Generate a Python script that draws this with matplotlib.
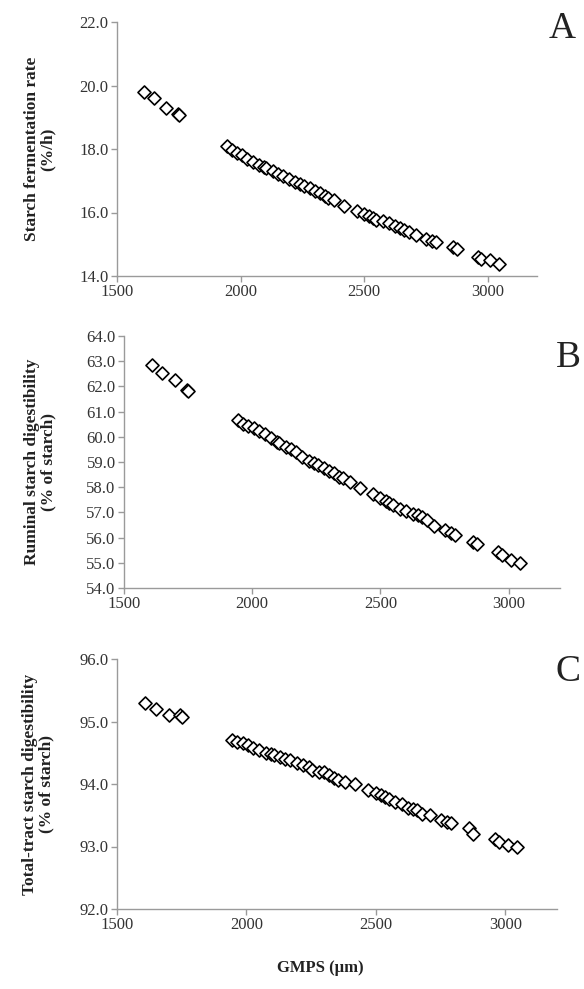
import matplotlib
matplotlib.use("Agg")
import matplotlib.pyplot as plt

plt.rcParams['font.family'] = ['Liberation Serif', 'DejaVu Serif']

# GMPS (um), shared by all three panels
gmps = [1610, 1650, 1700, 1745, 1750, 1945, 1965, 1985, 2005, 2025, 2050, 2075,
        2095, 2105, 2130, 2150, 2170, 2195, 2220, 2240, 2255, 2280, 2300, 2320,
        2340, 2355, 2380, 2420, 2470, 2500, 2520, 2535, 2550, 2575, 2600, 2625,
        2645, 2660, 2680, 2710, 2750, 2775, 2790, 2860, 2875, 2960, 2975, 3010, 3045]

# A: starch fermentation rate (%/h)
ferm_rate = [19.80, 19.60, 19.30, 19.10, 19.08, 18.10, 17.98, 17.88, 17.80, 17.70,
             17.60, 17.50, 17.42, 17.40, 17.30, 17.22, 17.15, 17.05, 16.96, 16.90,
             16.85, 16.76, 16.68, 16.62, 16.52, 16.46, 16.38, 16.20, 16.05, 15.95,
             15.88, 15.82, 15.77, 15.72, 15.66, 15.58, 15.50, 15.44, 15.38, 15.28,
             15.18, 15.10, 15.06, 14.90, 14.84, 14.60, 14.55, 14.50, 14.38]

# B: ruminal starch digestibility (% of starch)
rumen_dig = [62.85, 62.55, 62.25, 61.85, 61.80, 60.65, 60.52, 60.42, 60.35, 60.22,
             60.10, 59.95, 59.80, 59.75, 59.60, 59.50, 59.38, 59.20, 59.05, 58.95,
             58.88, 58.75, 58.65, 58.55, 58.42, 58.35, 58.22, 57.95, 57.72, 57.56,
             57.45, 57.38, 57.28, 57.15, 57.05, 56.95, 56.88, 56.80, 56.70, 56.48,
             56.32, 56.20, 56.12, 55.82, 55.76, 55.42, 55.30, 55.13, 55.00]

# C: total-tract starch digestibility (% of starch)
tt_dig = [95.30, 95.20, 95.10, 95.10, 95.08, 94.70, 94.68, 94.65, 94.62, 94.58,
          94.55, 94.50, 94.48, 94.47, 94.43, 94.40, 94.38, 94.33, 94.31, 94.28,
          94.23, 94.20, 94.19, 94.15, 94.10, 94.07, 94.03, 94.00, 93.90, 93.86,
          93.83, 93.80, 93.76, 93.72, 93.68, 93.62, 93.60, 93.58, 93.52, 93.50,
          93.42, 93.40, 93.38, 93.30, 93.20, 93.12, 93.08, 93.02, 93.00]

panels = [
    ("A", ferm_rate, "Starch fermentation rate\n(%/h)", (14, 22), 2.0,
     [117, 22, 537, 276]),
    ("B", rumen_dig, "Ruminal starch digestibility\n(% of starch)", (54, 64), 1.0,
     [124, 336, 560, 588]),
    ("C", tt_dig, "Total-tract starch digestibility\n(% of starch)", (92, 96), 1.0,
     [117, 659, 557, 909]),
]

W, H = 584, 989
fig = plt.figure(figsize=(W / 100, H / 100), dpi=100)

letter_pos = {"A": (562, 29), "B": (568, 358), "C": (568, 672)}
ylabel_x = {"A": 40, "B": 40, "C": 38}

for letter, yvals, ylabel, ylim, ystep, box in panels:
    l, t, r, b = box
    ax = fig.add_axes([l / W, 1 - b / H, (r - l) / W, (b - t) / H])
    ax.scatter(gmps, yvals, marker="D", s=44, facecolors="white",
               edgecolors="black", linewidths=1.2, zorder=3)
    ax.set_xlim(1500, 3200)
    ax.set_ylim(*ylim)
    ax.set_xticks([1500, 2000, 2500, 3000])
    n = int(round((ylim[1] - ylim[0]) / ystep))
    yt = [ylim[0] + i * ystep for i in range(n + 1)]
    ax.set_yticks(yt)
    ax.set_yticklabels(["%.1f" % v for v in yt])
    for s in ["top", "right"]:
        ax.spines[s].set_visible(False)
    for s in ["left", "bottom"]:
        ax.spines[s].set_color("#9a9a9a")
        ax.spines[s].set_linewidth(1.0)
    ax.tick_params(direction="out", length=4, width=1, color="#9a9a9a",
                   labelsize=12, labelcolor="#333333", pad=2)
    fig.text(ylabel_x[letter] / W, 1 - (t + b) / 2 / H, ylabel, rotation=90,
             fontsize=12.5, fontweight="bold", linespacing=1.0,
             ha="center", va="center", color="#222222")
    lx, ly = letter_pos[letter]
    fig.text(lx / W, 1 - ly / H, letter, fontsize=27, ha="center", va="center",
             color="#222222")

fig.text(320 / W, 1 - 968 / H, "GMPS (µm)", fontsize=12, fontweight="bold",
         ha="center", va="center", color="#222222")

fig.savefig("out.png", dpi=100)
